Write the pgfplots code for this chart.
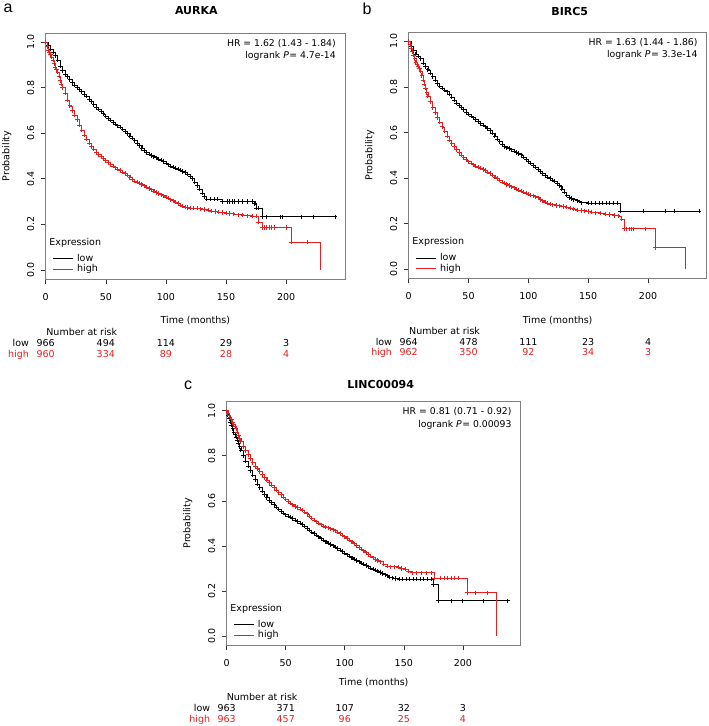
\documentclass[border=0pt]{standalone}
\usepackage{fontspec}
\setmainfont{DejaVu Sans}
\newfontfamily\panelfont{Liberation Sans}
\usepackage{pgfplots}
\usepackage{pgfplotstable}
\pgfplotsset{compat=1.18}
\definecolor{kmred}{RGB}{232,30,30}
\newcommand\fs{\fontsize{9.5}{11.4}\selectfont}

% ---------------- data: panel a (AURKA) ----------------
\pgfplotstableread[row sep=\\]{t p\\
0 1.0\\ 2 0.985\\ 4 0.97\\ 6 0.955\\ 8 0.94\\ 10 0.92\\ 12 0.895\\ 14 0.875\\ 16 0.86\\ 18 0.848\\
20 0.835\\ 22 0.822\\ 24 0.812\\ 26 0.802\\ 28 0.792\\ 30 0.782\\ 32 0.772\\ 34 0.762\\ 36 0.75\\ 38 0.738\\
40 0.726\\ 42 0.715\\ 44 0.705\\ 46 0.695\\ 48 0.685\\ 50 0.675\\ 52 0.665\\ 54 0.657\\ 56 0.648\\ 58 0.640\\
60 0.633\\ 62 0.626\\ 64 0.618\\ 66 0.608\\ 68 0.598\\ 70 0.588\\ 72 0.578\\ 74 0.567\\ 76 0.556\\ 78 0.545\\
80 0.533\\ 82 0.523\\ 84 0.515\\ 86 0.508\\ 88 0.502\\ 90 0.497\\ 92 0.492\\ 94 0.487\\ 96 0.482\\ 98 0.476\\
100 0.468\\ 102 0.462\\ 104 0.456\\ 106 0.452\\ 108 0.447\\ 110 0.442\\ 112 0.437\\ 114 0.432\\ 116 0.428\\ 118 0.421\\
120 0.41\\ 122 0.40\\ 124 0.385\\ 126 0.37\\ 128 0.355\\ 130 0.338\\ 132 0.322\\ 134 0.31\\ 137 0.31\\ 140 0.31\\
143 0.31\\ 147 0.30\\ 151 0.30\\ 153 0.30\\ 155 0.30\\ 157 0.30\\ 160 0.30\\ 164 0.30\\ 168 0.30\\ 172 0.30\\
174 0.29\\ 175 0.27\\ 177 0.27\\ 180 0.233\\ 184 0.233\\ 195 0.233\\ 197 0.233\\ 213 0.233\\ 223 0.233\\ 241 0.233\\
}\aLow
\pgfplotstableread[row sep=\\]{t p\\
0 1.0\\ 1 0.98\\ 2 0.965\\ 3 0.955\\ 4 0.945\\ 5 0.935\\ 6 0.92\\ 7 0.905\\ 8 0.89\\ 9 0.88\\
10 0.868\\ 11 0.85\\ 12 0.83\\ 13 0.815\\ 14 0.80\\ 16 0.775\\ 18 0.745\\ 20 0.72\\ 22 0.70\\ 24 0.68\\
26 0.66\\ 28 0.635\\ 30 0.613\\ 32 0.592\\ 34 0.573\\ 36 0.557\\ 38 0.542\\ 40 0.53\\ 42 0.518\\ 44 0.507\\
46 0.497\\ 48 0.488\\ 50 0.479\\ 52 0.471\\ 54 0.463\\ 56 0.456\\ 58 0.449\\ 60 0.442\\ 62 0.436\\ 64 0.43\\
66 0.423\\ 68 0.415\\ 70 0.405\\ 72 0.396\\ 74 0.39\\ 76 0.385\\ 78 0.38\\ 80 0.375\\ 82 0.369\\ 84 0.363\\
86 0.357\\ 88 0.352\\ 90 0.346\\ 92 0.34\\ 94 0.335\\ 96 0.33\\ 98 0.325\\ 100 0.32\\ 102 0.314\\ 104 0.308\\
106 0.303\\ 108 0.298\\ 110 0.292\\ 112 0.285\\ 114 0.28\\ 116 0.276\\ 118 0.274\\ 120 0.272\\ 123 0.27\\ 126 0.27\\
129 0.268\\ 132 0.265\\ 135 0.262\\ 138 0.258\\ 141 0.256\\ 144 0.254\\ 147 0.252\\ 150 0.25\\ 153 0.248\\ 156 0.246\\
160 0.242\\ 164 0.24\\ 168 0.238\\ 172 0.236\\ 175 0.236\\ 177 0.209\\ 180 0.186\\ 182 0.186\\ 184 0.186\\ 186 0.186\\
188 0.186\\ 190 0.186\\ 200 0.186\\ 204.5 0.122\\ 218 0.122\\ 228.8 0\\
}\aHigh

% ---------------- data: panel b (BIRC5) ----------------
\pgfplotstableread[row sep=\\]{t p\\
0 1.0\\ 2 0.98\\ 4 0.96\\ 6 0.945\\ 8 0.935\\ 10 0.925\\ 12 0.905\\ 14 0.89\\ 16 0.875\\ 18 0.86\\
20 0.845\\ 22 0.83\\ 24 0.815\\ 26 0.804\\ 28 0.795\\ 30 0.787\\ 32 0.779\\ 34 0.768\\ 36 0.755\\ 38 0.742\\
40 0.73\\ 42 0.72\\ 44 0.71\\ 46 0.70\\ 48 0.69\\ 50 0.68\\ 52 0.672\\ 54 0.665\\ 56 0.657\\ 58 0.648\\
60 0.64\\ 62 0.632\\ 64 0.625\\ 66 0.618\\ 68 0.608\\ 70 0.597\\ 72 0.585\\ 74 0.572\\ 76 0.56\\ 78 0.548\\
80 0.538\\ 82 0.533\\ 84 0.53\\ 86 0.525\\ 88 0.518\\ 90 0.512\\ 92 0.508\\ 94 0.502\\ 96 0.492\\ 98 0.482\\
100 0.472\\ 102 0.465\\ 104 0.457\\ 106 0.448\\ 108 0.438\\ 110 0.428\\ 112 0.42\\ 114 0.412\\ 116 0.405\\ 118 0.398\\
120 0.392\\ 122 0.386\\ 124 0.378\\ 126 0.366\\ 128 0.352\\ 130 0.338\\ 132 0.325\\ 134 0.315\\ 136 0.31\\ 138 0.305\\
141 0.30\\ 144 0.292\\ 150 0.29\\ 153 0.29\\ 156 0.29\\ 159 0.29\\ 162 0.29\\ 165 0.29\\ 168 0.29\\ 171 0.29\\
174 0.29\\ 176.7 0.255\\ 196 0.255\\ 214.6 0.255\\ 221.6 0.255\\ 242.7 0.255\\
}\bLow
\pgfplotstableread[row sep=\\]{t p\\
0 1.0\\ 1 0.985\\ 2 0.97\\ 3 0.955\\ 4 0.94\\ 5 0.925\\ 6 0.91\\ 7 0.9\\ 8 0.89\\ 9 0.88\\
10 0.87\\ 11 0.85\\ 12 0.83\\ 13 0.812\\ 14 0.795\\ 15 0.775\\ 16 0.76\\ 18 0.735\\ 20 0.71\\ 22 0.688\\
24 0.665\\ 26 0.645\\ 28 0.625\\ 30 0.605\\ 32 0.585\\ 34 0.567\\ 36 0.552\\ 38 0.538\\ 40 0.525\\ 42 0.512\\
44 0.5\\ 46 0.49\\ 48 0.48\\ 50 0.472\\ 52 0.465\\ 54 0.458\\ 56 0.452\\ 58 0.447\\ 60 0.443\\ 62 0.438\\
64 0.433\\ 66 0.427\\ 68 0.42\\ 70 0.413\\ 72 0.405\\ 74 0.398\\ 76 0.39\\ 78 0.382\\ 80 0.377\\ 82 0.372\\
84 0.367\\ 86 0.362\\ 88 0.357\\ 90 0.352\\ 92 0.347\\ 94 0.343\\ 96 0.338\\ 98 0.334\\ 100 0.33\\ 102 0.326\\
104 0.322\\ 106 0.318\\ 108 0.313\\ 110 0.306\\ 112 0.3\\ 114 0.295\\ 116 0.29\\ 118 0.286\\ 120 0.283\\ 123 0.28\\
126 0.278\\ 129 0.275\\ 132 0.272\\ 135 0.268\\ 138 0.263\\ 141 0.26\\ 144 0.258\\ 147 0.256\\ 150 0.253\\ 153 0.25\\
156 0.248\\ 160 0.246\\ 164 0.242\\ 168 0.24\\ 172 0.236\\ 175 0.234\\ 178 0.22\\ 180 0.178\\ 182 0.178\\ 184 0.178\\
186 0.178\\ 188 0.178\\ 198 0.178\\ 206 0.095\\ 231 0\\
}\bHigh

% ---------------- data: panel c (LINC00094) ----------------
\pgfplotstableread[row sep=\\]{t p\\
0 1.0\\ 1 0.98\\ 2 0.965\\ 3 0.95\\ 4 0.935\\ 5 0.92\\ 6 0.905\\ 7 0.893\\ 8 0.882\\ 9 0.87\\
10 0.855\\ 11 0.84\\ 12 0.825\\ 14 0.8\\ 16 0.777\\ 18 0.755\\ 20 0.735\\ 22 0.715\\ 24 0.695\\ 26 0.675\\
28 0.658\\ 30 0.643\\ 32 0.628\\ 34 0.615\\ 36 0.603\\ 38 0.592\\ 40 0.582\\ 42 0.572\\ 44 0.562\\ 46 0.553\\
48 0.545\\ 50 0.538\\ 52 0.532\\ 54 0.527\\ 56 0.522\\ 58 0.515\\ 60 0.508\\ 62 0.502\\ 64 0.495\\ 66 0.487\\
68 0.478\\ 70 0.469\\ 72 0.462\\ 74 0.455\\ 76 0.448\\ 78 0.44\\ 80 0.432\\ 82 0.425\\ 84 0.418\\ 86 0.412\\
88 0.406\\ 90 0.4\\ 92 0.394\\ 94 0.388\\ 96 0.381\\ 98 0.375\\ 100 0.368\\ 102 0.361\\ 104 0.354\\ 106 0.347\\
108 0.341\\ 110 0.335\\ 112 0.329\\ 114 0.324\\ 116 0.318\\ 118 0.313\\ 120 0.308\\ 122 0.302\\ 124 0.297\\ 126 0.292\\
128 0.287\\ 130 0.282\\ 132 0.277\\ 134 0.272\\ 136 0.267\\ 138 0.262\\ 140 0.258\\ 143 0.255\\ 146 0.253\\ 149 0.253\\
152 0.253\\ 155 0.253\\ 158 0.253\\ 161 0.253\\ 164 0.253\\ 167 0.253\\ 170 0.253\\ 173 0.253\\ 175 0.228\\ 179 0.157\\
190 0.157\\ 199.4 0.157\\ 217.6 0.157\\ 237.8 0.157\\
}\cLow
\pgfplotstableread[row sep=\\]{t p\\
0 1.0\\ 1 0.99\\ 2 0.98\\ 3 0.97\\ 4 0.96\\ 5 0.95\\ 6 0.94\\ 7 0.93\\ 8 0.92\\ 9 0.905\\
10 0.89\\ 11 0.875\\ 12 0.862\\ 14 0.84\\ 16 0.822\\ 18 0.805\\ 20 0.787\\ 22 0.77\\ 24 0.755\\ 26 0.742\\
28 0.73\\ 30 0.717\\ 32 0.704\\ 34 0.691\\ 36 0.68\\ 38 0.669\\ 40 0.658\\ 42 0.647\\ 44 0.637\\ 46 0.627\\
48 0.617\\ 50 0.607\\ 52 0.598\\ 54 0.59\\ 56 0.582\\ 58 0.575\\ 60 0.57\\ 62 0.564\\ 64 0.558\\ 66 0.55\\
68 0.542\\ 70 0.533\\ 72 0.524\\ 74 0.515\\ 76 0.507\\ 78 0.5\\ 80 0.494\\ 82 0.488\\ 84 0.484\\ 86 0.48\\
88 0.476\\ 90 0.472\\ 92 0.467\\ 94 0.461\\ 96 0.455\\ 98 0.448\\ 100 0.44\\ 102 0.433\\ 104 0.425\\ 106 0.418\\
108 0.41\\ 110 0.402\\ 112 0.394\\ 114 0.386\\ 116 0.378\\ 118 0.37\\ 120 0.362\\ 122 0.355\\ 124 0.348\\ 126 0.34\\
128 0.335\\ 130 0.33\\ 133 0.32\\ 136 0.31\\ 139 0.308\\ 142 0.308\\ 145 0.305\\ 148 0.3\\ 151 0.296\\ 154 0.288\\
157 0.281\\ 161 0.281\\ 165 0.281\\ 169 0.281\\ 173 0.281\\ 175.7 0.256\\ 181 0.256\\ 184 0.256\\ 187 0.256\\ 190 0.256\\
193 0.256\\ 196 0.256\\ 203.6 0.192\\ 211 0.192\\ 221 0.192\\ 228 0\\
}\cHigh

\pgfplotsset{
  kmaxis/.style={
    scale only axis, clip=false,
    xmin=0, xmax=249, ymin=-0.04, ymax=1.04,
    xtick={0,50,100,150,200}, ytick={0,0.2,0.4,0.6,0.8,1.0},
    xtick pos=left, ytick pos=left,
    tick align=outside, major tick length=5pt,
    tick style={black!80, line width=0.6pt},
    axis line style={black!50, line width=0.7pt},
    ticklabel style={font=\fs},
    /pgf/number format/assume math mode=true,
    yticklabel style={xshift=-3pt, rotate=90, anchor=south, /pgf/number format/fixed, /pgf/number format/fixed zerofill, /pgf/number format/precision=1},
    xticklabel style={yshift=-6pt, anchor=north},
    xlabel={Time (months)}, ylabel={Probability},
    every axis x label/.style={at={(rel axis cs:0.5,0)}, yshift=-42pt, anchor=center, font=\fs},
    every axis y label/.style={at={(rel axis cs:0,0.5)}, xshift=-39pt, rotate=90, anchor=center, font=\fs},
    legend style={at={(rel axis cs:0.02,0.012)}, anchor=south west, draw=none, fill=none,
      font=\fs, row sep=-1.5pt, inner sep=1pt, nodes={inner sep=1.5pt}},
    legend cell align=left,
    legend image code/.code={\draw[#1] (0pt,0pt) -- (20pt,0pt);},
  },
  kmline/.style={const plot, no markers, line width=0.65pt},
  kmmarks/.style={only marks, mark=+, mark size=2.1pt, mark options={line width=0.8pt}, restrict y to domain=0.01:2},
}

\newcommand\riskrows[9]{% #1 yshift number, #2 yshift low, #3 yshift high, #4..#8 low values, #9 high values
  \node[anchor=base, font=\fs] at ([yshift=#1]axis cs:30,-0.04) {Number at risk};
  \node[anchor=base east, font=\fs] at ([yshift=#2]axis cs:-11,-0.04) {low};
  \node[anchor=base east, font=\fs, text=kmred] at ([yshift=#3]axis cs:-11,-0.04) {high};
  \node[anchor=base, font=\fs] at ([yshift=#2]axis cs:0,-0.04) {#4};
  \node[anchor=base, font=\fs] at ([yshift=#2]axis cs:50,-0.04) {#5};
  \node[anchor=base, font=\fs] at ([yshift=#2]axis cs:100,-0.04) {#6};
  \node[anchor=base, font=\fs] at ([yshift=#2]axis cs:150,-0.04) {#7};
  \node[anchor=base, font=\fs] at ([yshift=#2]axis cs:200,-0.04) {#8};
  \highrow{#3}#9}
\newcommand\highrow[6]{%
  \node[anchor=base, font=\fs, text=kmred] at ([yshift=#1]axis cs:0,-0.04) {#2};
  \node[anchor=base, font=\fs, text=kmred] at ([yshift=#1]axis cs:50,-0.04) {#3};
  \node[anchor=base, font=\fs, text=kmred] at ([yshift=#1]axis cs:100,-0.04) {#4};
  \node[anchor=base, font=\fs, text=kmred] at ([yshift=#1]axis cs:150,-0.04) {#5};
  \node[anchor=base, font=\fs, text=kmred] at ([yshift=#1]axis cs:200,-0.04) {#6};}

\newcommand\kmextras[3]{% #1 HR line, #2 P value, #3 legend title y
  \node[anchor=north east, align=right, font=\fontsize{9.3}{12.3}\selectfont, inner sep=0pt]
    at ([xshift=-9pt,yshift=-6pt]rel axis cs:1,1) {HR = #1\\logrank \textit{P}\hspace{0.05em}= #2};
  \node[anchor=west, font=\fs, inner sep=0pt] at (rel axis cs:0.012,#3) {Expression};
  \addlegendimage{black, line width=0.7pt}\addlegendentry{\hspace{2pt}low}
  \addlegendimage{kmred, line width=0.7pt}\addlegendentry{\hspace{2pt}high}
}

\begin{document}
\begin{tikzpicture}
\path[use as bounding box] (0pt,0pt) rectangle (709pt,-726pt);

\node[font=\panelfont\fontsize{16}{16}\selectfont] at (8pt,-8pt) {a};
\node[font=\panelfont\fontsize{16}{16}\selectfont] at (367pt,-9pt) {b};
\node[font=\panelfont\fontsize{16}{16}\selectfont] at (188pt,-385pt) {c};

% ---- panel a ----
\begin{axis}[kmaxis, at={(45.7pt,-279pt)}, anchor=south west, width=299.3pt, height=246pt,
  title={AURKA}, every axis title/.style={at={(rel axis cs:0.5,1)}, anchor=center, yshift=22pt, xshift=1pt, font=\bfseries\fontsize{11}{13}\selectfont}]
  \addplot[kmline, black, forget plot] table[x=t,y=p] {\aLow};
  \addplot[kmmarks, black, forget plot] table[x=t,y=p] {\aLow};
  \addplot[kmline, kmred, forget plot] table[x=t,y=p] {\aHigh};
  \addplot[kmmarks, kmred, forget plot] table[x=t,y=p] {\aHigh};
  \kmextras{1.62 (1.43 - 1.84)}{4.7e-14}{0.148}
  \riskrows{-56.5pt}{-67.3pt}{-78pt}{966}{494}{114}{29}{3}{{960}{334}{89}{28}{4}}
\end{axis}

% ---- panel b ----
\begin{axis}[kmaxis, at={(408.7pt,-278.3pt)}, anchor=south west, width=298pt, height=246pt,
  title={BIRC5}, every axis title/.style={at={(rel axis cs:0.5,1)}, anchor=center, yshift=21pt, xshift=12pt, font=\bfseries\fontsize{11}{13}\selectfont}]
  \addplot[kmline, black, forget plot] table[x=t,y=p] {\bLow};
  \addplot[kmmarks, black, forget plot] table[x=t,y=p] {\bLow};
  \addplot[kmline, kmred, forget plot] table[x=t,y=p] {\bHigh};
  \addplot[kmmarks, kmred, forget plot] table[x=t,y=p] {\bHigh};
  \kmextras{1.63 (1.44 - 1.86)}{3.3e-14}{0.148}
  \riskrows{-56.2pt}{-66.9pt}{-77.5pt}{964}{478}{111}{23}{4}{{962}{350}{92}{34}{3}}
\end{axis}

% ---- panel c ----
\begin{axis}[kmaxis, at={(226.7pt,-645pt)}, anchor=south west, width=294pt, height=243.3pt,
  every axis x label/.style={at={(rel axis cs:0.5,0)}, yshift=-38pt, anchor=center, font=\fs},
  title={LINC00094}, every axis title/.style={at={(rel axis cs:0.5,1)}, anchor=center, yshift=17pt, xshift=7pt, font=\bfseries\fontsize{11}{13}\selectfont}]
  \addplot[kmline, black, forget plot] table[x=t,y=p] {\cLow};
  \addplot[kmmarks, black, forget plot] table[x=t,y=p] {\cLow};
  \addplot[kmline, kmred, forget plot] table[x=t,y=p] {\cHigh};
  \addplot[kmmarks, kmred, forget plot] table[x=t,y=p] {\cHigh};
  \kmextras{0.81 (0.71 - 0.92)}{0.00093}{0.148}
  \riskrows{-55.5pt}{-66.5pt}{-77pt}{963}{371}{107}{32}{3}{{963}{457}{96}{25}{4}}
\end{axis}
\end{tikzpicture}
\end{document}
